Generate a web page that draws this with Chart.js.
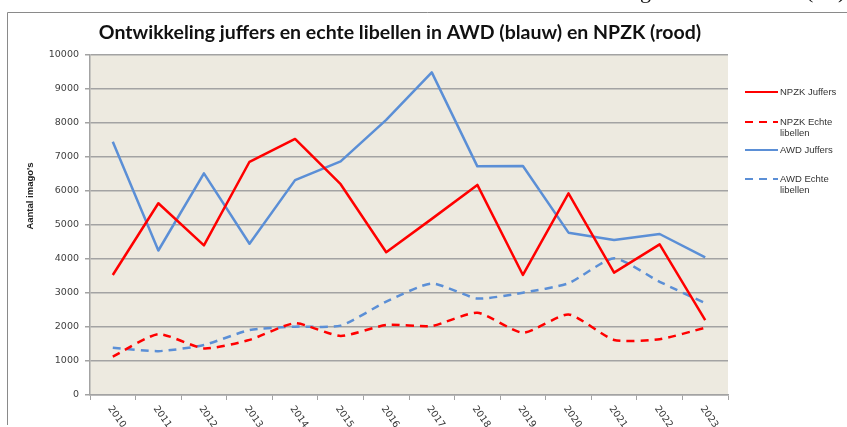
<!DOCTYPE html>
<html>
<head>
<meta charset="utf-8">
<script src="https://cdn.jsdelivr.net/npm/chart.js@4.4.1/dist/chart.umd.min.js"></script>
<style>
    html, body { margin: 0; padding: 0; background: #ffffff; overflow: hidden; }
    #wrap { position: relative; width: 847px; height: 427px; }
    #doc-text { position: absolute; top: -22px; left: 0; width: 847px; height: 30px;
        font-family: "Liberation Serif", serif; font-size: 22px; color: #111; white-space: nowrap; }
    #doc-text span { position: absolute; }
</style>
</head>
<body>
<div id="wrap">
    <div id="doc-text"><span style="left:640px">g</span><span style="left:806px">(</span><span style="left:838px">)</span></div>
    <canvas id="libellen" width="847" height="427"></canvas>
</div>
<script>
const years = ['2010', '2011', '2012', '2013', '2014', '2015', '2016', '2017', '2018', '2019', '2020', '2021', '2022', '2023']
const npzkJuffers = [3530, 5640, 4400, 6860, 7530, 6200, 4200, 5180, 6180, 3530, 5930, 3600, 4430, 2200]
const npzkEchte = [1130, 1790, 1370, 1620, 2110, 1735, 2060, 2030, 2420, 1830, 2370, 1620, 1640, 1980]
const awdJuffers = [7450, 4250, 6520, 4450, 6320, 6870, 8090, 9490, 6725, 6735, 4775, 4560, 4735, 4050]
const awdEchte = [1390, 1290, 1470, 1910, 2010, 2040, 2745, 3280, 2840, 3010, 3285, 4020, 3330, 2700]
const yTicks = [0, 1000, 2000, 3000, 4000, 5000, 6000, 7000, 8000, 9000, 10000]

const legendLines = [['NPZK Juffers'], ['NPZK Echte', 'libellen'], ['AWD Juffers'], ['AWD Echte', 'libellen']]
const legendY = [92, 122, 150, 179]

const chartTitle = 'Ontwikkeling juffers en echte libellen in AWD (blauw) en NPZK (rood)'
const yTitle = "Aantal imago's"

const red = '#ff0000'
const blue = '#5b8fd6'
const gridColor = '#a3a3a3'

// plot background, frame, titles, rotated year labels and legend
const decorations = {
    id: 'decorations',
    beforeDraw(chart) {
        const { ctx, chartArea } = chart
        ctx.save()
        ctx.fillStyle = '#edeae0'
        ctx.fillRect(chartArea.left, chartArea.top, chartArea.right - chartArea.left, chartArea.bottom - chartArea.top)
        ctx.restore()
    },
    afterDraw(chart) {
        const { ctx, chartArea } = chart
        ctx.save()

        // frame of the embedded picture
        ctx.strokeStyle = '#8a8a8a'
        ctx.lineWidth = 1
        ctx.beginPath()
        ctx.moveTo(847, 12.5)
        ctx.lineTo(7.5, 12.5)
        ctx.lineTo(7.5, 425)
        ctx.stroke()

        // title
        ctx.fillStyle = '#111'
        ctx.font = 'bold 19.5px Lato'
        ctx.textAlign = 'center'
        ctx.textBaseline = 'middle'
        ctx.fillText(chartTitle, 400, 33)

        // y axis title
        ctx.save()
        ctx.translate(30, 196)
        ctx.rotate(-Math.PI / 2)
        ctx.font = 'bold 9.5px "Liberation Sans"'
        ctx.fillStyle = '#222'
        ctx.fillText(yTitle, 0, 0)
        ctx.restore()

        // year labels, rotated clockwise
        const xScale = chart.scales.x
        ctx.font = '9.5px "DejaVu Sans"'
        ctx.fillStyle = '#333'
        ctx.textAlign = 'left'
        ctx.textBaseline = 'middle'
        years.forEach((year, i) => {
            const x = xScale.getPixelForValue(i)
            ctx.save()
            ctx.translate(x - 3, chartArea.bottom + 12)
            ctx.rotate(55 * Math.PI / 180)
            ctx.fillText(year, 0, 0)
            ctx.restore()
        })

        // legend
        chart.data.datasets.forEach((ds, i) => {
            const y = legendY[i]
            ctx.strokeStyle = ds.borderColor
            ctx.lineWidth = 2
            ctx.setLineDash(ds.borderDash || [])
            ctx.beginPath()
            ctx.moveTo(745, y)
            ctx.lineTo(778, y)
            ctx.stroke()
            ctx.setLineDash([])
            ctx.font = '9.5px "Liberation Sans"'
            ctx.fillStyle = '#333'
            legendLines[i].forEach((line, j) => {
                ctx.fillText(line, 780, y + j * 11)
            })
        })

        ctx.restore()
    }
}

const lineStyle = (label, data, color, dashed) => ({
    label: label,
    data: data,
    borderColor: color,
    backgroundColor: color,
    borderWidth: 2.5,
    borderDash: dashed ? [8, 6] : [],
    tension: dashed ? 0.2 : 0,
    pointRadius: 0,
    borderJoinStyle: 'round',
    borderCapStyle: 'butt'
})

new Chart(document.getElementById('libellen'), {
    type: 'line',
    data: {
        labels: years,
        datasets: [
            lineStyle('NPZK Juffers', npzkJuffers, red, false),
            lineStyle('NPZK Echte libellen', npzkEchte, red, true),
            lineStyle('AWD Juffers', awdJuffers, blue, false),
            lineStyle('AWD Echte libellen', awdEchte, blue, true)
        ]
    },
    options: {
        responsive: false,
        animation: false,
        layout: { padding: { top: 55, right: 119, bottom: 0, left: 0 } },
        plugins: {
            legend: { display: false },
            tooltip: { enabled: false }
        },
        scales: {
            x: {
                offset: true,
                grid: { offset: true, drawOnChartArea: false, color: gridColor, tickLength: 5 },
                border: { color: gridColor, width: 1.5 },
                ticks: { display: false },
                afterFit(scale) { scale.height = 32 }
            },
            y: {
                min: 0,
                max: 10000,
                afterBuildTicks(scale) { scale.ticks = yTicks.map(v => ({ value: v })) },
                grid: { color: gridColor, lineWidth: 1.5, tickLength: 5 },
                border: { color: gridColor, width: 1.5 },
                ticks: {
                    font: { family: 'DejaVu Sans', size: 9.5 },
                    color: '#404040',
                    padding: 6,
                    callback: value => String(value)
                },
                afterFit(scale) { scale.width = 90 }
            }
        }
    },
    plugins: [decorations]
})
</script>
</body>
</html>
